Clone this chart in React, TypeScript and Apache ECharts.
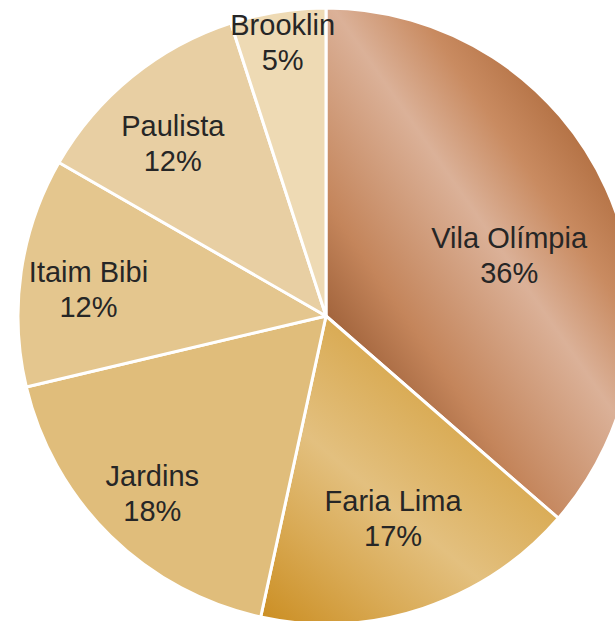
import React, { useEffect, useRef } from "react";
import * as echarts from "echarts";

const categories = ["Vila Olímpia", "Faria Lima", "Jardins", "Itaim Bibi", "Paulista", "Brooklin"];
const shares = [36.4, 17.0, 17.9, 12.0, 11.7, 5.0];

// styling (not data): label distance from centre and angular nudge per slice
const labelDistances = [190, 210, 245, 236, 228, 274];
const labelAngleShift = [6.1, 0, 0, -1.9, -2.5, 0];

const CENTER: [number, number] = [326, 316];
const RADIUS = 308;

const vilaGradient = new echarts.graphic.LinearGradient(
  290, 258, 542, 83,
  [
    { offset: 0, color: "#a4663e" },
    { offset: 0.2, color: "#c4855b" },
    { offset: 0.58, color: "#dbb198" },
    { offset: 0.8, color: "#c98b61" },
    { offset: 1, color: "#b47245" },
  ],
  true
);
const fariaGradient = new echarts.graphic.LinearGradient(
  294, 640, 490, 405,
  [
    { offset: 0, color: "#cc9026" },
    { offset: 0.28, color: "#d9aa55" },
    { offset: 0.54, color: "#e3c07f" },
    { offset: 1, color: "#d6a446" },
  ],
  true
);
const sliceColors: any[] = [vilaGradient, fariaGradient, "#e0bd7b", "#e4c68e", "#e8cfa3", "#eedab4"];

export default function App() {
  const ref = useRef<HTMLDivElement>(null);
  useEffect(() => {
    if (!ref.current) return;
    const chart = echarts.init(ref.current, undefined, { renderer: "svg" });
    const mainData = categories.map((name, i) => ({
      name,
      value: shares[i],
      itemStyle: { color: sliceColors[i] },
    }));
    const labelSeries = categories.map((_, k) => ({
      type: "pie",
      silent: true,
      center: CENTER,
      radius: [0, labelDistances[k] * 2],
      startAngle: 90 - labelAngleShift[k],
      clockwise: true,
      z: 5,
      itemStyle: { color: "rgba(0,0,0,0)", borderWidth: 0 },
      labelLine: { show: false },
      emphasis: { disabled: true },
      data: categories.map((name, i) => ({
        name,
        value: shares[i],
        label: { show: i === k },
      })),
      label: {
        position: "inside",
        formatter: (p: any) => `${p.name}\n${Math.round(p.value)}%`,
        color: "#262626",
        fontSize: 29,
        lineHeight: 35,
        fontFamily: 'Arial, "Liberation Sans", sans-serif',
        align: "center",
      },
    }));
    chart.setOption({
      animation: false,
      backgroundColor: "#ffffff",
      series: [
        {
          type: "pie",
          center: CENTER,
          radius: [0, RADIUS],
          startAngle: 90,
          clockwise: true,
          silent: true,
          itemStyle: { borderColor: "#ffffff", borderWidth: 3 },
          label: { show: false },
          labelLine: { show: false },
          emphasis: { disabled: true },
          data: mainData,
        },
        ...labelSeries,
      ],
    });
    return () => chart.dispose();
  }, []);
  return (
    <div
      ref={ref}
      style={{ position: "absolute", left: 0, top: 0, width: 615, height: 621 }}
    />
  );
}
